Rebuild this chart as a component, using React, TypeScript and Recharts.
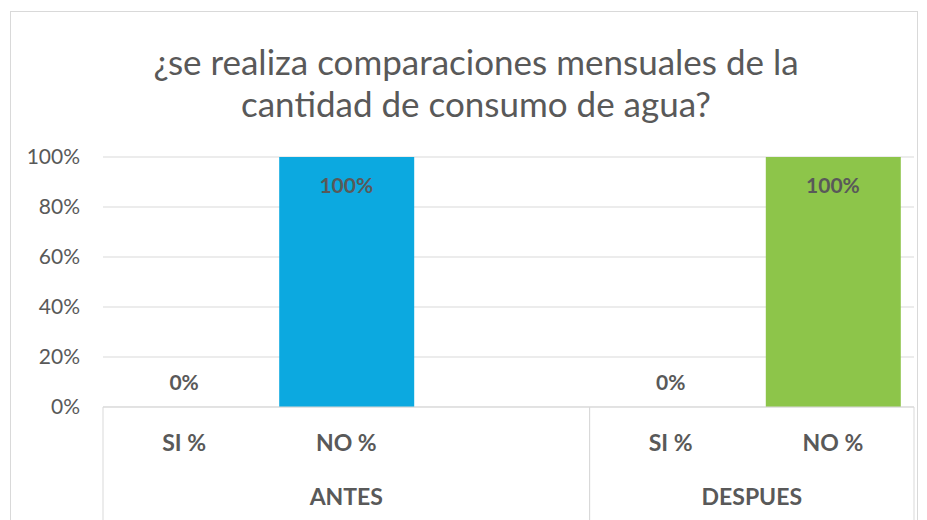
import { ComposedChart, Bar, Line, LabelList, XAxis, YAxis, CartesianGrid, Cell } from 'recharts'

const categories = ['SI %', 'NO %', '', 'SI %', 'NO %']
const groups = ['ANTES', 'ANTES', 'ANTES', 'DESPUES', 'DESPUES']
const values: (number | null)[] = [0, 100, null, 0, 100]
const yTicks = [0, 20, 40, 60, 80, 100]
const titleLines = ['¿se realiza comparaciones mensuales de la', 'cantidad de consumo de agua?']

const W = 927
const H = 520
const PLOT_LEFT = 103
const PLOT_RIGHT = 914
const PLOT_TOP = 157
const AXIS_H = 113
const BAND = (PLOT_RIGHT - PLOT_LEFT) / categories.length
const TEXT = '#595959'
const LINE = '#D9D9D9'
const FONT = 'Lato, "Open Sans", sans-serif'

const groupColor: Record<string, string> = { ANTES: '#0CA9E0', DESPUES: '#8DC54A' }

const rows = categories.map((label, i) => ({ key: i, label, group: groups[i], value: values[i] }))

function CategoryTick(props: any) {
  const { x, payload } = props
  const i: number = payload.index ?? props.index
  const top = H - AXIS_H
  const group = groups[i]
  const first = group !== groups[i - 1]
  const last = group !== groups[i + 1]
  let groupLabel = null
  if (first) {
    let k = i
    while (groups[k + 1] === group) k++
    groupLabel = (
      <text x={x + ((k - i) / 2) * BAND} y={top + 98} textAnchor="middle" fill={TEXT} fontSize={23} fontWeight={700} fontFamily={FONT}>
        {group}
      </text>
    )
  }
  return (
    <g>
      <text x={x} y={top + 44} textAnchor="middle" fill={TEXT} fontSize={23} fontWeight={700} fontFamily={FONT}>
        {categories[i]}
      </text>
      {groupLabel}
      {first && <line x1={x - BAND / 2} x2={x - BAND / 2} y1={top} y2={H} stroke={LINE} />}
      {last && <line x1={x + BAND / 2} x2={x + BAND / 2} y1={top} y2={H} stroke={LINE} />}
    </g>
  )
}

// labels are hung on the points of an invisible line so zero values still get one
function ValueLabel(props: any) {
  const { x, y, value } = props
  if (value === null || value === undefined || y == null) return null
  const ty = value === 0 ? y - 17 : y + 36
  return (
    <text x={x} y={ty} textAnchor="middle" fill={TEXT} fontSize={21} fontWeight={700} fontFamily={FONT}>
      {`${value}%`}
    </text>
  )
}

export default function App() {
  return (
    <div style={{ position: 'absolute', left: 0, top: 0, width: W, height: H, background: '#fff', overflow: 'hidden' }}>
      <div
        style={{
          position: 'absolute',
          left: 10,
          top: 11,
          width: 908,
          height: H,
          border: `1px solid ${LINE}`,
          boxSizing: 'border-box',
        }}
      />
      <div
        style={{
          position: 'absolute',
          left: 0,
          top: 40,
          width: 952,
          textAlign: 'center',
          fontFamily: FONT,
          fontSize: 35,
          lineHeight: '42px',
          color: TEXT,
        }}
      >
        {titleLines.map((t) => (
          <div key={t}>{t}</div>
        ))}
      </div>
      <div style={{ position: 'absolute', left: 0, top: 0 }}>
        <ComposedChart
          width={W}
          height={H}
          data={rows}
          margin={{ top: PLOT_TOP, right: W - PLOT_RIGHT, left: 0, bottom: 0 }}
        >
          <CartesianGrid horizontal vertical={false} stroke={LINE} />
          <XAxis
            dataKey="key"
            height={AXIS_H}
            interval={0}
            tickLine={false}
            axisLine={{ stroke: LINE }}
            tick={<CategoryTick />}
          />
          <YAxis
            width={PLOT_LEFT}
            domain={[0, 100]}
            ticks={yTicks}
            tickFormatter={(v) => `${v}%`}
            axisLine={false}
            tickLine={false}
            tickMargin={17}
            tick={{ fill: TEXT, fontSize: 21, fontFamily: FONT }}
          />
          <Bar dataKey="value" barSize={135} isAnimationActive={false}>
            {rows.map((r) => (
              <Cell key={r.key} fill={groupColor[r.group]} />
            ))}
          </Bar>
          <Line dataKey="value" stroke="none" dot={false} activeDot={false} legendType="none" isAnimationActive={false}>
            <LabelList dataKey="value" content={<ValueLabel />} />
          </Line>
        </ComposedChart>
      </div>
    </div>
  )
}
